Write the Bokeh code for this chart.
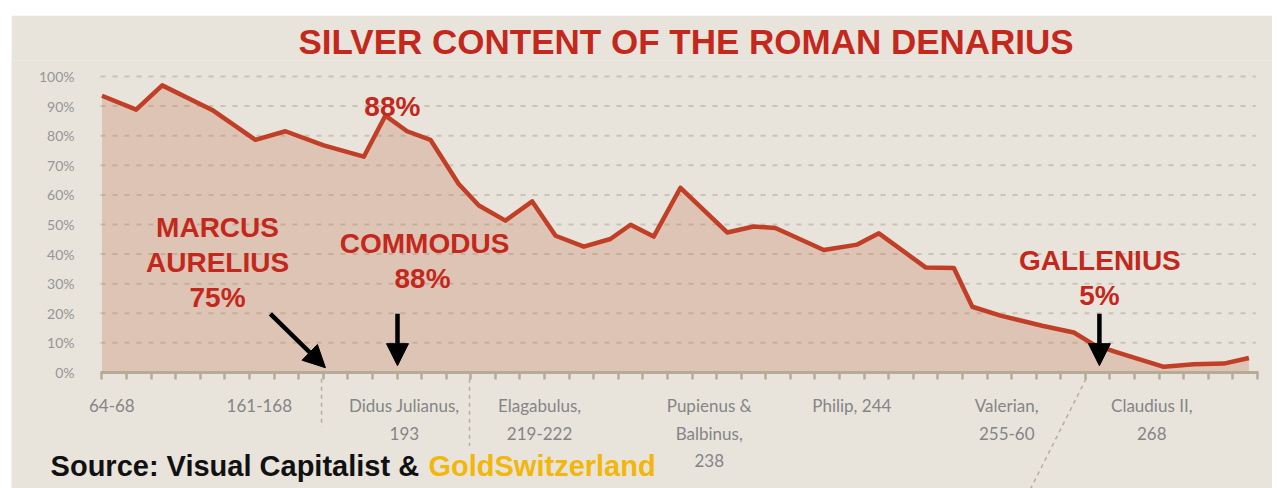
from bokeh.plotting import figure
from bokeh.models import (Range1d, FixedTicker, PrintfTickFormatter, Arrow, NormalHead,
                          Label, ColumnDataSource, LinearAxis, Spacer)
from bokeh.layouts import column, row
from bokeh.core.properties import value
from bokeh.embed import file_html
from bokeh.resources import INLINE

# ---- data (x measured in tenths of an axis tick interval) ----
pos = [0, 13.9, 24.5, 44.8, 62.4, 74.6, 90.2, 106.5, 115.3, 124.1, 133.6, 145.1, 153.3,
       164.1, 175.0, 184.5, 196.0, 206.8, 215.0, 224.4, 235.3, 254.3, 265.1, 273.9,
       293.6, 307.2, 316.0, 335.0, 346.5, 354.0, 365.5, 382.4, 395.3, 403.4, 412.9,
       431.9, 444.1, 456.3, 466.5]
silver = [93.5, 88.8, 97.0, 88.7, 78.6, 81.5, 76.7, 72.9, 86.8, 81.5, 78.6, 63.7, 56.4,
          51.3, 57.8, 46.2, 42.5, 45.1, 49.9, 45.9, 62.4, 47.3, 49.3, 48.8,
          41.4, 43.2, 47.0, 35.5, 35.3, 22.2, 19.2, 15.8, 13.5, 9.4, 6.8,
          1.9, 2.8, 3.0, 4.9]

tick_marks = list(range(0, 471, 10))
label_pos = [4, 64, 123, 178, 247, 305, 368, 427]
label_text = ["64-68", "161-168", "Didus Julianus,\n193", "Elagabulus,\n219-222",
              "Pupienus &\nBalbinus,\n238", "Philip, 244", "Valerian,\n255-60",
              "Claudius II,\n268"]
y_ticks = list(range(0, 101, 10))

ann_text = ["88%", "MARCUS", "AURELIUS", "75%", "COMMODUS", "88%", "GALLENIUS", "5%"]
ann_x = [118.1, 47.0, 47.0, 47.0, 131.2, 130.4, 405.9, 405.7]
ann_y = [89.9, 48.9, 37.1, 25.3, 43.5, 31.7, 37.8, 25.9]

BG = "#e8e4dc"
RED = "#c3281d"
LINE = "#c13f27"
TAN = "#b6ab94"
X_LO, X_HI = -0.6, 470.3

p = figure(width=1261, height=473, x_range=Range1d(-36.8, 476.1), y_range=Range1d(-39.2, 105.4),
           output_backend="svg", toolbar_location=None, x_axis_location=None, y_axis_location=None,
           min_border_left=0, min_border_right=0, min_border_top=45, min_border_bottom=0,
           background_fill_color=BG, border_fill_color=BG, outline_line_color=None)

p.title.text = "SILVER CONTENT OF THE ROMAN DENARIUS"
p.title.align = "left"
p.title.offset = 287
p.title.standoff = 0
p.title.text_font = "Liberation Sans"
p.title.text_font_style = "bold"
p.title.text_font_size = "35px"
p.title.text_color = RED

# dashed horizontal grid lines, limited to the data area
grid_y = y_ticks[1:]
gsrc = ColumnDataSource(dict(x0=[X_LO] * len(grid_y), x1=[X_HI - 1] * len(grid_y), y=grid_y))
p.segment(x0="x0", y0="y", x1="x1", y1="y", source=gsrc, line_color="#c9c3b7",
          line_width=2, line_dash="5 7")

src = ColumnDataSource(dict(x=pos, y=silver, y0=[0] * len(pos)))
p.varea(x="x", y1="y0", y2="y", source=src, fill_color="#c27a5a", fill_alpha=0.30)
p.line(x="x", y="y", source=src, line_color=LINE, line_width=4.5, line_join="round")

# y axis
y_axis = LinearAxis(fixed_location=X_LO, ticker=FixedTicker(ticks=y_ticks),
                    formatter=PrintfTickFormatter(format="%d%%"),
                    axis_line_color=None, major_tick_line_color=None, minor_tick_line_color=None,
                    major_label_standoff=20, major_label_text_font="Lato",
                    major_label_text_font_size="14px", major_label_text_color="#959595")
p.add_layout(y_axis, "left")

# x axis: tick marks
tick_axis = LinearAxis(fixed_location=0, ticker=FixedTicker(ticks=tick_marks), bounds=(X_LO, X_HI),
                       major_tick_out=7, major_tick_in=0, major_tick_line_color=TAN,
                       major_tick_line_width=2.5, minor_tick_line_color=None,
                       axis_line_color=TAN, axis_line_width=3,
                       major_label_text_color=None, major_label_text_font_size="1px")
p.add_layout(tick_axis, "below")

# x axis: labels
label_axis = LinearAxis(fixed_location=0, ticker=FixedTicker(ticks=label_pos),
                        major_label_overrides=dict(zip(label_pos, label_text)),
                        axis_line_color=None, major_tick_line_color=None, major_tick_out=0,
                        major_tick_in=0, minor_tick_line_color=None,
                        major_label_standoff=23, major_label_text_font="Lato",
                        major_label_text_font_size="17px", major_label_text_color="#858585",
                        major_label_text_line_height=1.3)
p.add_layout(label_axis, "below")

p.xgrid.visible = False
p.ygrid.visible = False

# annotations
asrc = ColumnDataSource(dict(x=ann_x, y=ann_y, t=ann_text))
p.text(x="x", y="y", text="t", source=asrc, text_font=value("Liberation Sans"),
       text_font_style="bold", text_font_size="28px", text_color=RED,
       text_align="center", text_baseline="middle")

for xs, ys, xe, ye in [(68.5, 19.8, 90.9, 1.6), (120.2, 19.8, 120.2, 2.3), (405.7, 19.8, 405.7, 2.3)]:
    p.add_layout(Arrow(x_start=xs, y_start=ys, x_end=xe, y_end=ye, line_width=4.5, line_color="black",
                       end=NormalHead(size=22, fill_color="black", line_color="black")))

for xs, ys, xe, ye in [(89.3, -2.1, 89.3, -18.4), (149.5, -2.1, 149.5, -24.8), (400.3, -2.1, 377.7, -39.3)]:
    p.add_layout(Arrow(x_start=xs, y_start=ys, x_end=xe, y_end=ye, end=None, line_width=1.5,
                       line_color="#b8ad9c", line_dash="4 4"))

p.add_layout(Label(x=-20.9, y=-31.6, text="Source: Visual Capitalist & ", text_font="Liberation Sans",
                   text_font_style="bold", text_font_size="29px", text_color="#111111",
                   text_baseline="middle"))
p.add_layout(Label(x=132.8, y=-31.6, text="GoldSwitzerland", text_font="Liberation Sans",
                   text_font_style="bold", text_font_size="29px", text_color="#f3b60a",
                   text_baseline="middle"))

layout = column(Spacer(height=15, width=1272), row(Spacer(width=11, height=473), p))
open("out.html", "w").write(file_html(layout, INLINE))
